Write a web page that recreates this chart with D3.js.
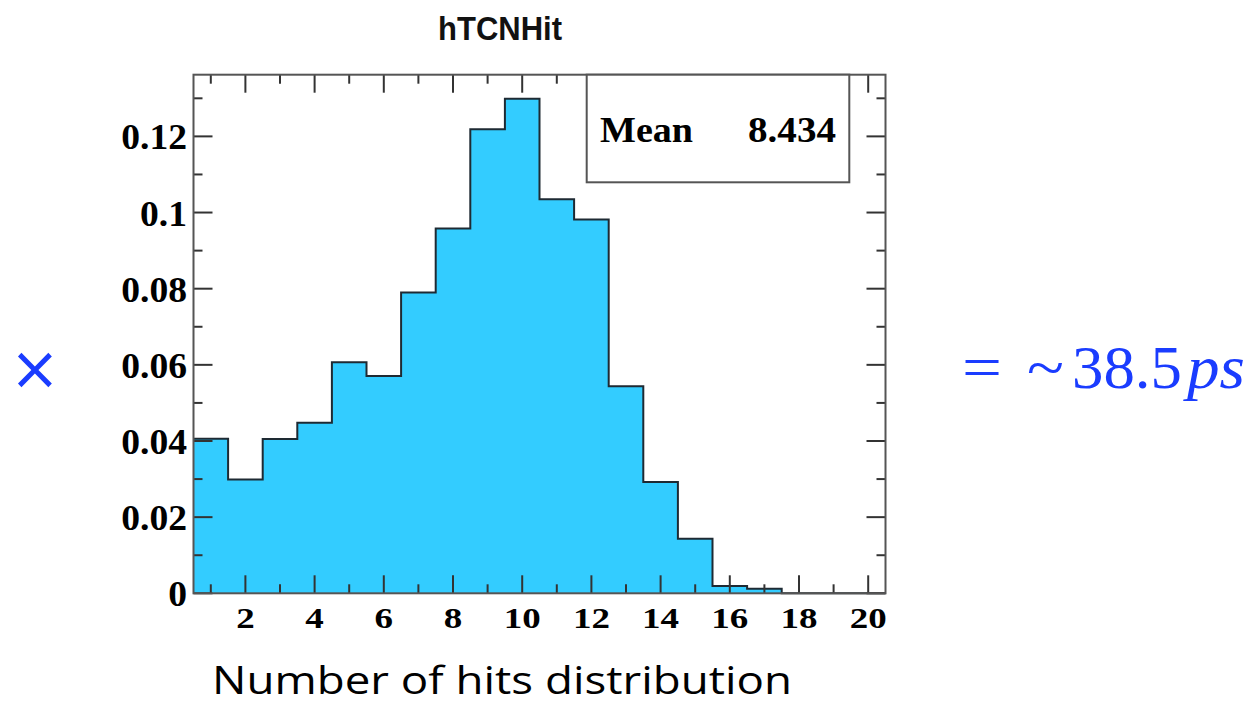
<!DOCTYPE html>
<html>
<head>
<meta charset="utf-8">
<script src="https://cdn.jsdelivr.net/npm/d3@7"></script>
<style>
  html, body { margin: 0; padding: 0; background: #fff; }
  svg { display: block; }
</style>
</head>
<body>
<svg id="chart" width="1256" height="704"></svg>
<script>
// ---- data ----
const binCenters = [1,2,3,4,5,6,7,8,9,10,11,12,13,14,15,16,17,18,19,20];
const binValues  = [0.0406,0.0299,0.0405,0.0448,0.0607,0.0571,0.0790,0.0958,0.1219,0.1299,
                    0.1035,0.0982,0.0544,0.0292,0.0143,0.0019,0.0012,0,0,0];
const xTickLabels = [2,4,6,8,10,12,14,16,18,20];
const yTickLabels = [0,0.02,0.04,0.06,0.08,0.1,0.12];
const chartTitle = "hTCNHit";
const statLabel = "Mean";
const statValue = "8.434";
const xCaption = "Number of hits distribution";

// ---- layout ----
const svg = d3.select("#chart");
const L = 193.5, R = 885.5, T = 74.7, B = 593.3;
const x = d3.scaleLinear().domain([0.5, 20.5]).range([L, R]);
const y = d3.scaleLinear().domain([0, 0.1362]).range([B, T]);

const fillColor = "#33ccff";
const lineColor = "#1e2a33";
const frameColor = "#555";
const blue = "#1a3cff";
const serif = "Liberation Serif, Times New Roman, serif";

const labelWidth = (s, digitW) => s.split("").reduce((a, c) => a + (c === "." ? digitW / 2 : digitW), 0);

// histogram points (left edges), plus closing right edge
const pts = binCenters.map((c, i) => [c - 0.5, binValues[i]]);
pts.push([binCenters[binCenters.length - 1] + 0.5, binValues[binValues.length - 1]]);

const area = d3.area().x(d => x(d[0])).y0(y(0)).y1(d => y(d[1])).curve(d3.curveStepAfter);
const line = d3.line().x(d => x(d[0])).y(d => y(d[1])).curve(d3.curveStepAfter);

svg.append("path").attr("d", area(pts)).attr("fill", fillColor);
svg.append("path").attr("d", line(pts)).attr("fill", "none")
  .attr("stroke", lineColor).attr("stroke-width", 2);

// ticks
const xTicks = d3.range(1, 21);
const g = svg.append("g").attr("stroke", "#333").attr("stroke-width", 2);
xTicks.forEach(t => {
  const len = (t % 2 === 0) ? 18 : 9;
  g.append("line").attr("x1", x(t)).attr("x2", x(t)).attr("y1", B).attr("y2", B - len);
  g.append("line").attr("x1", x(t)).attr("x2", x(t)).attr("y1", T).attr("y2", T + len);
});
const yTicks = d3.range(0, 14).map(i => i / 100);
yTicks.forEach((t, i) => {
  const len = (i % 2 === 0) ? 19 : 9;
  g.append("line").attr("x1", L).attr("x2", L + len).attr("y1", y(t)).attr("y2", y(t));
  g.append("line").attr("x1", R).attr("x2", R - len).attr("y1", y(t)).attr("y2", y(t));
});

// frame
svg.append("rect").attr("x", L).attr("y", T).attr("width", R - L).attr("height", B - T)
  .attr("fill", "none").attr("stroke", frameColor).attr("stroke-width", 2);

// y tick labels
const fmtY = d => d === 0 ? "0" : String(d);
svg.append("g").selectAll("text").data(yTickLabels).join("text")
  .attr("x", 187).attr("y", d => y(d) + 13)
  .attr("text-anchor", "end")
  .attr("font-family", serif)
  .attr("font-weight", "bold").attr("font-size", 35).attr("fill", "#000")
  .attr("textLength", d => labelWidth(fmtY(d), 18.8)).attr("lengthAdjust", "spacingAndGlyphs")
  .text(fmtY);

// x tick labels
svg.append("g").selectAll("text").data(xTickLabels).join("text")
  .attr("x", d => x(d)).attr("y", 628)
  .attr("text-anchor", "middle")
  .attr("font-family", serif)
  .attr("font-weight", "bold").attr("font-size", 29).attr("fill", "#000")
  .attr("textLength", d => labelWidth(String(d), 18.5)).attr("lengthAdjust", "spacingAndGlyphs")
  .text(d => d);

// stats box
svg.append("rect").attr("x", 586.7).attr("y", T).attr("width", 849.3 - 586.7).attr("height", 182.3 - T)
  .attr("fill", "#fff").attr("stroke", frameColor).attr("stroke-width", 2);
svg.append("text").attr("x", 600).attr("y", 141.7)
  .attr("font-family", serif)
  .attr("font-weight", "bold").attr("font-size", 36).attr("fill", "#000")
  .attr("textLength", 93).attr("lengthAdjust", "spacingAndGlyphs")
  .text(statLabel);
svg.append("text").attr("x", 748).attr("y", 141.7)
  .attr("font-family", serif)
  .attr("font-weight", "bold").attr("font-size", 36).attr("fill", "#000")
  .attr("textLength", 88).attr("lengthAdjust", "spacingAndGlyphs")
  .text(statValue);

// title
svg.append("text").attr("x", 438).attr("y", 40)
  .attr("font-family", "Liberation Sans, Arial, sans-serif")
  .attr("font-weight", "bold").attr("font-size", 33).attr("fill", "#111")
  .attr("textLength", 124).attr("lengthAdjust", "spacingAndGlyphs")
  .text(chartTitle);

// caption below
svg.append("text").attr("x", 212).attr("y", 694)
  .attr("font-family", "Open Sans, Noto Sans, sans-serif")
  .attr("font-size", 39).attr("fill", "#000")
  .attr("textLength", 580).attr("lengthAdjust", "spacingAndGlyphs")
  .text(xCaption);

// left multiplication sign
svg.append("text").attr("x", 35).attr("y", 388.5)
  .attr("text-anchor", "middle")
  .attr("font-family", "DejaVu Sans, sans-serif")
  .attr("font-size", 60).attr("fill", blue)
  .text("\u00D7");

// right expression "= ~38.5ps" as one text with positioned pieces
const expr = svg.append("text").attr("y", 388)
  .attr("font-family", serif).attr("font-size", 62).attr("fill", blue);
expr.append("tspan").attr("x", 962).attr("textLength", 40).attr("lengthAdjust", "spacingAndGlyphs").text("=");
expr.append("tspan").attr("x", 1027).attr("textLength", 37).attr("lengthAdjust", "spacingAndGlyphs").text("~");
expr.append("tspan").attr("x", 1072).attr("textLength", 110).attr("lengthAdjust", "spacingAndGlyphs").text("38.5");
expr.append("tspan").attr("x", 1187).attr("font-style", "italic").attr("textLength", 58).attr("lengthAdjust", "spacingAndGlyphs").text("ps");
</script>
</body>
</html>
